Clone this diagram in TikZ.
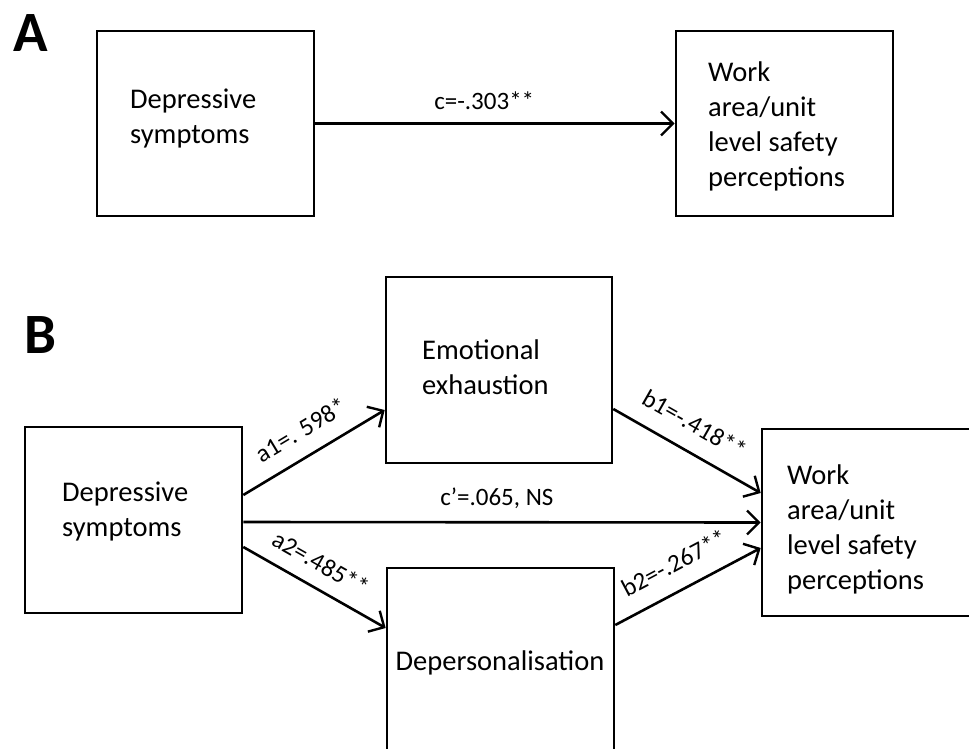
\documentclass[tikz,border=0pt]{standalone}
\usepackage{fontspec}
\setmainfont{Carlito}
\usetikzlibrary{arrows.meta}
\begin{document}
\begin{tikzpicture}[x=1pt,y=-1pt,
  box/.style={draw,line width=2.6pt,inner sep=0pt},
  boxtxt/.style={font=\fontsize{28.5}{35}\selectfont,align=left,inner sep=0pt,anchor=west},
  lbl/.style={font=\fontsize{25}{28}\selectfont,inner sep=3pt},
  conn/.style={line width=2.6pt,-{Straight Barb[length=12pt,width=24pt,line width=2.4pt]}},
  panel/.style={font=\bfseries\fontsize{57}{60}\selectfont,inner sep=0pt,anchor=base west}]
\clip (0,0) rectangle (969,749);
\fill[white] (0,0) rectangle (969,749);
% panel labels
\node[panel] (pA) at (13,52) {A};
\node[panel] (pB) at (24,353) {B};
% panel A boxes
\node[box,minimum width=217pt,minimum height=185pt] (lA) at (205.5,123.5) {};
\node[box,minimum width=217pt,minimum height=185pt] (rA) at (784.5,123.5) {};
\node[boxtxt] (lAt) at (130,118) {Depressive\\symptoms};
\node[boxtxt] (rAt) at (708,126) {Work\\area/unit\\level safety\\perceptions};
\draw[conn] (lA.east) -- (rA.west) node[lbl,pos=0.47,above=10pt] (cA) {c=-.303**};
% panel B boxes
\node[box,minimum width=217pt,minimum height=186pt] (lB) at (133.5,520) {};
\node[box,minimum width=226pt,minimum height=186pt] (emo) at (499,370) {};
\node[box,minimum width=227pt,minimum height=186pt] (dep) at (500.5,661) {};
\node[box,minimum width=217pt,minimum height=187pt] (rB) at (870.5,522.5) {};
\node[boxtxt] (lBt) at (62,511) {Depressive\\symptoms};
\node[boxtxt] (emot) at (422,367) {Emotional\\exhaustion};
\node[font=\fontsize{28.5}{35}\selectfont,inner sep=0pt] (dept) at (500,663) {Depersonalisation};
\node[boxtxt] (rBt) at (787,529) {Work\\area/unit\\level safety\\perceptions};
% connectors
\draw[conn] ([yshift=25pt]lB.east) -- ([yshift=-40pt]emo.west)
  node[lbl,pos=0.5,sloped,above=13pt] (a1) {a1=. 598*};
\draw[conn] ([yshift=-2pt]lB.east) -- ([yshift=0pt]rB.west)
  node[lbl,pos=0.49,above=9pt] (cB) {c’=.065, NS};
\draw[conn] ([yshift=-27pt]lB.east) -- ([yshift=33pt]dep.west)
  node[lbl,pos=0.46,sloped,above=11pt] (a2) {a2=.485**};
\draw[conn] ([yshift=-39pt]emo.east) -- ([yshift=29.5pt]rB.west)
  node[lbl,pos=0.46,sloped,above=14pt] (b1) {b1=-.418**};
\draw[conn] ([yshift=36pt]dep.east) -- ([yshift=-25.5pt]rB.west)
  node[lbl,pos=0.49,sloped,above=14pt] (b2) {b2=-.267**};
\end{tikzpicture}
\end{document}
